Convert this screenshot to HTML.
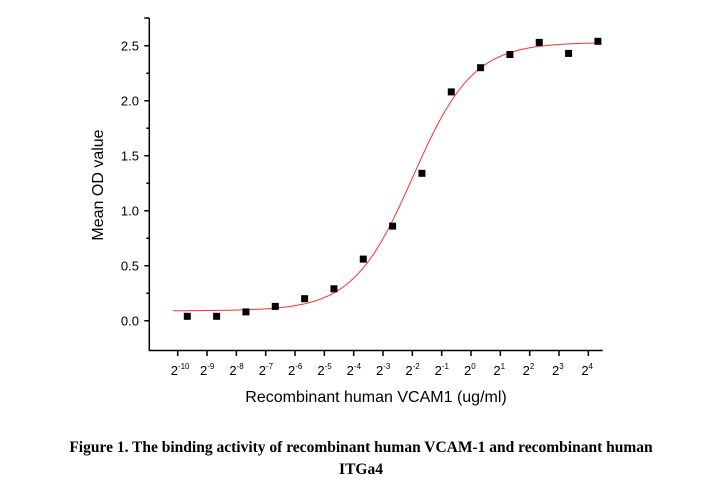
<!DOCTYPE html>
<html><head><meta charset="utf-8"><style>
body{margin:0;background:#fff;width:703px;height:485px;overflow:hidden}
</style></head><body>
<svg id="s" width="703" height="485" xmlns="http://www.w3.org/2000/svg" font-family="Liberation Sans, sans-serif">
<g stroke="#000" stroke-width="1.5" fill="none">
<path d="M149.3,18 V350.5 H602.7"/>
<path d="M144.3,18 H149.3 M144.3,45.7 H149.3 M144.3,100.7 H149.3 M144.3,155.7 H149.3 M144.3,210.7 H149.3 M144.3,265.7 H149.3 M144.3,320.7 H149.3"/>
<path d="M146.3,73.2 H149.3 M146.3,128.2 H149.3 M146.3,183.2 H149.3 M146.3,238.2 H149.3 M146.3,293.2 H149.3"/>
</g>
<g id="xt" stroke="#000" stroke-width="1.5"></g>
<g font-size="13" text-anchor="end" fill="#000">
<text x="139" y="50.5">2.5</text><text x="139" y="105.5">2.0</text><text x="139" y="160.5">1.5</text>
<text x="139" y="215.5">1.0</text><text x="139" y="270.5">0.5</text><text x="139" y="325.5">0.0</text>
</g>
<g id="xl" font-size="13" fill="#000"></g>
<path id="curve" fill="none" stroke="#ff3030" stroke-width="1"/>
<g id="pts" fill="#000"></g>
<text x="103" y="185" font-size="16" text-anchor="middle" transform="rotate(-90 103 185)">Mean OD value</text>
<text x="376" y="402" font-size="16" text-anchor="middle">Recombinant human VCAM1 (ug/ml)</text>
<g font-family="Liberation Serif, serif" font-weight="bold" font-size="15.5" text-anchor="middle">
<text x="361" y="452">Figure 1. The binding activity of recombinant human VCAM-1 and recombinant human</text>
<text x="361" y="474">ITGa4</text>
</g>
</svg>
<script>
var NS="http://www.w3.org/2000/svg";
function Y(v){return 320.7-110*v;}
var xt=document.getElementById('xt'),xl=document.getElementById('xl');
for(var i=0;i<15;i++){var x=177.7+29.33*i;
var l=document.createElementNS(NS,'line');l.setAttribute('x1',x);l.setAttribute('x2',x);l.setAttribute('y1',350.5);l.setAttribute('y2',356);xt.appendChild(l);
var t=document.createElementNS(NS,'text');t.setAttribute('x',x-7);t.setAttribute('y',375);
var e=i-10;t.innerHTML='2<tspan font-size="8" dy="-6">'+e+'</tspan>';
t.setAttribute('text-anchor','start');xl.appendChild(t);}
var vals=[0.04,0.04,0.08,0.13,0.2,0.29,0.56,0.86,1.34,2.08,2.3,2.42,2.53,2.43,2.54];
var pts=document.getElementById('pts');
vals.forEach(function(v,i){var x=187.3+29.33*i,r=document.createElementNS(NS,'rect');
r.setAttribute('x',x-3.5);r.setAttribute('y',Y(v)-3.5);r.setAttribute('width',7);r.setAttribute('height',7);pts.appendChild(r);});
var d='';for(var x=173;x<=597;x+=2){var v=0.09+2.44/(1+Math.exp(-(x-413)/30));d+=(d?'L':'M')+x+','+Y(v).toFixed(1);}
document.getElementById('curve').setAttribute('d',d);
</script>
</body></html>
